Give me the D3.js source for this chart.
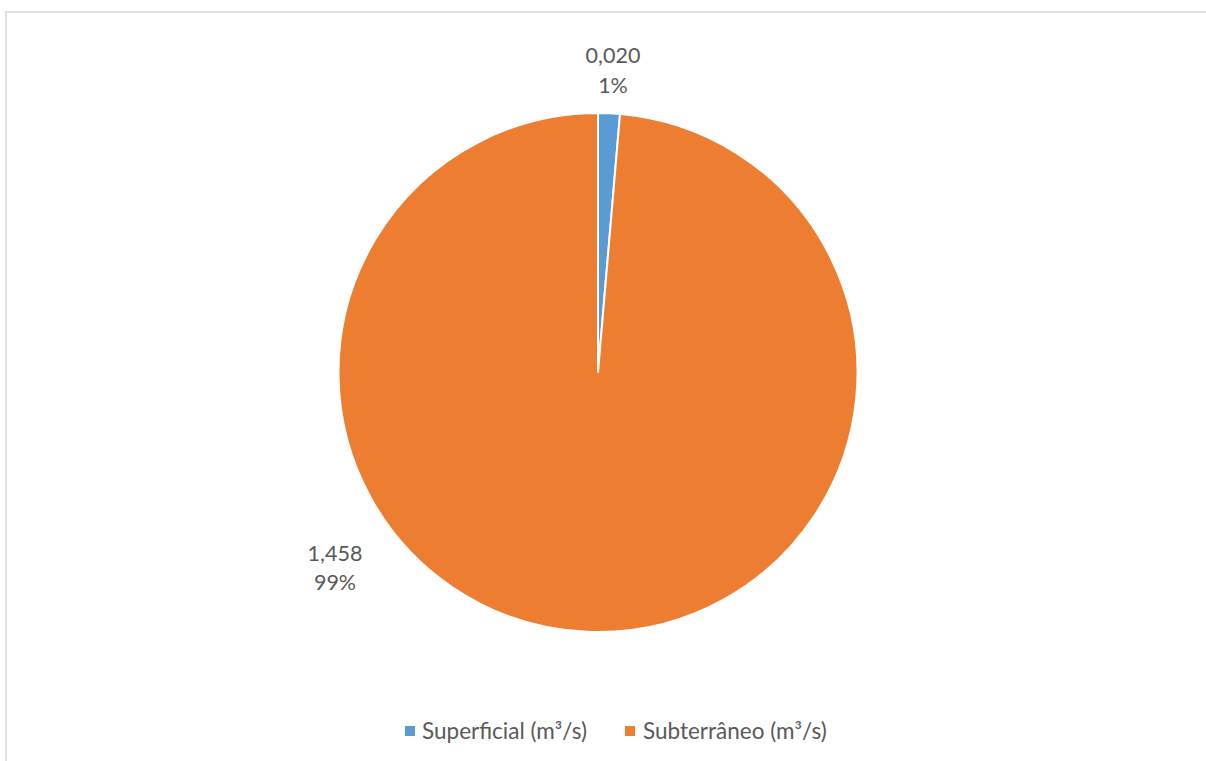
<!DOCTYPE html>
<html>
<head>
<meta charset="utf-8">
<script src="https://cdn.jsdelivr.net/npm/d3@7"></script>
<style>
  html, body { margin: 0; padding: 0; background: #ffffff; }
  svg { display: block; }
</style>
</head>
<body>
<svg id="chart" width="1206" height="761"></svg>
<script>
const categories = ["Superficial (m³/s)", "Subterrâneo (m³/s)"];
const values = [0.020, 1.458];
const valueLabels = ["0,020", "1,458"];
const percentLabels = ["1%", "99%"];
const colors = ["#5B9BD5", "#ED7D31"];

const W = 1206, H = 761;
const svg = d3.select("#chart");
const font = "Lato, 'Liberation Sans', sans-serif";
const textColor = "#595959";

// chart border
svg.append("rect")
  .attr("x", 6).attr("y", 12)
  .attr("width", 1400).attr("height", 900)
  .attr("fill", "none")
  .attr("stroke", "#d9d9d9")
  .attr("stroke-width", 1.5);

const cx = 598, cy = 372.5, r = 259.5;
const pie = d3.pie().sort(null).value(d => d);
const arcs = pie(values);
const arc = d3.arc().innerRadius(0).outerRadius(r);

const g = svg.append("g").attr("transform", `translate(${cx},${cy})`);
g.selectAll("path").data(arcs).join("path")
  .attr("d", arc)
  .attr("fill", (d, i) => colors[i])
  .attr("stroke", "#ffffff")
  .attr("stroke-width", 2);

// data labels
const labelPos = [
  { x: 613, y1: 63, y2: 92.5 },
  { x: 335, y1: 561, y2: 590 }
];
const lab = svg.append("g")
  .attr("font-family", font)
  .attr("font-size", 21.5)
  .attr("fill", textColor)
  .attr("text-anchor", "middle");
arcs.forEach((a, i) => {
  lab.append("text").attr("x", labelPos[i].x).attr("y", labelPos[i].y1).text(valueLabels[i]);
  lab.append("text").attr("x", labelPos[i].x).attr("y", labelPos[i].y2).text(percentLabels[i]);
});

// legend
const legendItems = [
  { sx: 405, tx: 422 },
  { sx: 625, tx: 643 }
];
const leg = svg.append("g").attr("font-family", font).attr("font-size", 22.5).attr("fill", textColor);
categories.forEach((c, i) => {
  leg.append("rect")
    .attr("x", legendItems[i].sx).attr("y", 726)
    .attr("width", 10).attr("height", 10)
    .attr("fill", colors[i]);
  leg.append("text")
    .attr("x", legendItems[i].tx).attr("y", 738.5)
    .text(c);
});
</script>
</body>
</html>
